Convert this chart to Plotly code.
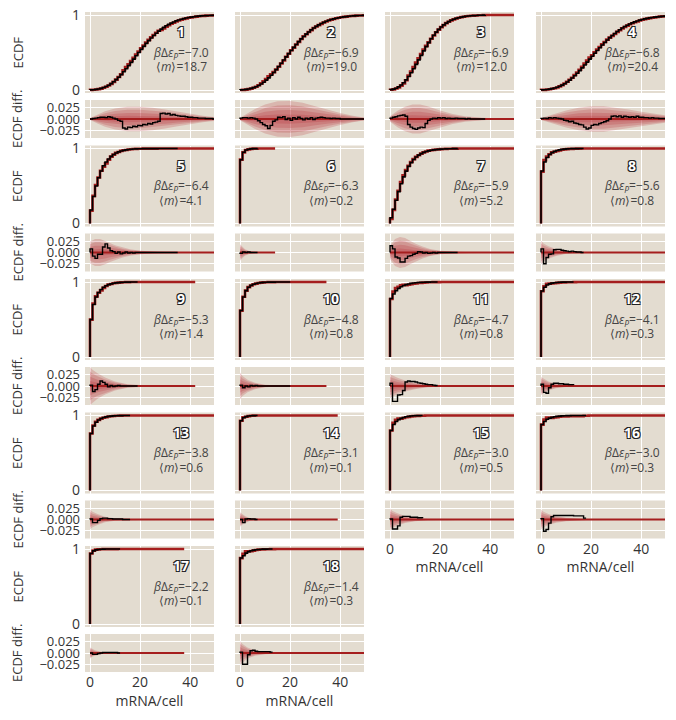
import plotly.graph_objects as go

# ---------------- data ----------------
panel_ids = list(range(1, 19))
beta_deps = [-7.0, -6.9, -6.9, -6.8, -6.4, -6.3, -5.9, -5.6, -5.3, -4.8,
             -4.7, -4.1, -3.8, -3.1, -3.0, -3.0, -2.2, -1.4]
mean_m = [18.7, 19.0, 12.0, 20.4, 4.1, 0.2, 5.2, 0.8, 1.4, 0.8,
          0.8, 0.3, 0.6, 0.1, 0.5, 0.3, 0.1, 0.3]
theory_end = [50, 50, 50, 50, 50, 14, 50, 50, 42, 34.5,
              50, 50, 50, 39, 50, 50, 37.6, 50]

# observed ECDF at mRNA counts 0,1,2,...
ecdf_1 = [0.002, 0.004, 0.008, 0.014, 0.022, 0.033, 0.047, 0.064, 0.085, 0.110,
          0.138, 0.170, 0.205, 0.243, 0.283, 0.325, 0.368, 0.412, 0.456, 0.499,
          0.541, 0.582, 0.621, 0.658, 0.693, 0.726, 0.757, 0.785, 0.811, 0.835,
          0.856, 0.875, 0.892, 0.907, 0.921, 0.933, 0.943, 0.952, 0.960, 0.967,
          0.972, 0.977, 0.981, 0.985, 0.988, 0.990, 0.992, 0.994, 0.995, 0.996, 0.997]
ecdf_2 = [0.002, 0.004, 0.008, 0.013, 0.021, 0.031, 0.044, 0.060, 0.080, 0.104,
          0.131, 0.162, 0.196, 0.233, 0.272, 0.313, 0.356, 0.399, 0.442, 0.485,
          0.527, 0.568, 0.607, 0.645, 0.681, 0.714, 0.745, 0.774, 0.801, 0.826,
          0.848, 0.868, 0.886, 0.902, 0.916, 0.929, 0.940, 0.949, 0.957, 0.964,
          0.970, 0.975, 0.979, 0.983, 0.986, 0.989, 0.991, 0.993, 0.994, 0.995, 0.996]
ecdf_3 = [0.005, 0.012, 0.024, 0.042, 0.066, 0.097, 0.135, 0.179, 0.229, 0.284,
          0.342, 0.402, 0.462, 0.521, 0.578, 0.632, 0.683, 0.729, 0.771, 0.808,
          0.840, 0.868, 0.892, 0.912, 0.929, 0.943, 0.955, 0.964, 0.972, 0.978,
          0.983, 0.987, 0.990, 0.992, 0.994, 0.996, 0.997, 0.998, 1.0]
ecdf_4 = [0.002, 0.004, 0.007, 0.012, 0.018, 0.026, 0.036, 0.049, 0.065, 0.084,
          0.106, 0.131, 0.159, 0.190, 0.223, 0.258, 0.295, 0.333, 0.372, 0.411,
          0.450, 0.489, 0.527, 0.564, 0.600, 0.634, 0.667, 0.698, 0.727, 0.754,
          0.780, 0.804, 0.826, 0.846, 0.864, 0.880, 0.895, 0.908, 0.920, 0.931,
          0.940, 0.948, 0.955, 0.961, 0.966, 0.971, 0.975, 0.979, 0.982, 0.985, 0.987]
ecdf_5 = [0.18, 0.36, 0.50, 0.61, 0.70, 0.77, 0.82, 0.86, 0.895, 0.92,
          0.94, 0.955, 0.966, 0.975, 0.981, 0.986, 0.99, 0.993, 0.995, 0.996,
          0.997, 0.998, 0.998, 0.999, 0.999, 0.999, 0.999, 1.0, 1.0, 1.0,
          1.0, 1.0, 1.0, 1.0, 1.0, 1.0]
ecdf_6 = [0.85, 0.95, 0.98, 0.99, 0.995, 0.998, 0.999, 1.0]
ecdf_7 = [0.077, 0.189, 0.309, 0.425, 0.530, 0.621, 0.698, 0.761, 0.812, 0.854,
          0.886, 0.912, 0.932, 0.948, 0.960, 0.969, 0.976, 0.981, 0.985, 0.988,
          0.991, 0.993, 0.995, 0.996, 0.997, 0.998, 0.999, 1.0]
ecdf_8 = [0.70, 0.82, 0.88, 0.92, 0.945, 0.962, 0.974, 0.982, 0.988, 0.992,
          0.995, 0.997, 0.998, 0.999, 0.999, 1.0, 1.0, 1.0]
ecdf_9 = [0.50, 0.70, 0.80, 0.86, 0.90, 0.93, 0.95, 0.965, 0.975, 0.983,
          0.988, 0.992, 0.995, 0.997, 0.998, 0.999, 1.0, 1.0, 1.0, 1.0]
ecdf_10 = [0.62, 0.80, 0.885, 0.93, 0.955, 0.97, 0.98, 0.987, 0.992, 0.995,
           0.997, 0.998, 0.999, 0.999, 1.0, 1.0, 1.0, 1.0, 1.0, 1.0, 1.0]
ecdf_11 = [0.78, 0.84, 0.885, 0.915, 0.937, 0.953, 0.965, 0.974, 0.981, 0.986,
           0.990, 0.993, 0.995, 0.997, 0.998, 0.999, 1.0, 1.0, 1.0, 1.0]
ecdf_12 = [0.88, 0.93, 0.96, 0.975, 0.985, 0.99, 0.994, 0.997, 0.998, 0.999,
           1.0, 1.0, 1.0, 1.0]
ecdf_13 = [0.76, 0.86, 0.91, 0.94, 0.96, 0.973, 0.982, 0.988, 0.992, 0.995,
           0.997, 0.998, 0.999, 1.0, 1.0, 1.0, 1.0]
ecdf_14 = [0.93, 0.97, 0.985, 0.993, 0.997, 0.999, 1.0, 1.0]
ecdf_15 = [0.80, 0.88, 0.92, 0.945, 0.962, 0.974, 0.983, 0.989, 0.993, 0.996,
           0.998, 0.999, 1.0, 1.0]
ecdf_16 = [0.88, 0.92, 0.95, 0.965, 0.975, 0.983, 0.988, 0.992, 0.995, 0.997,
           0.998, 0.999, 1.0, 1.0, 1.0, 1.0, 1.0, 1.0, 1.0]
ecdf_17 = [0.94, 0.975, 0.988, 0.994, 0.997, 0.999, 1.0, 1.0, 1.0, 1.0,
           1.0, 1.0, 1.0]
ecdf_18 = [0.88, 0.91, 0.945, 0.965, 0.977, 0.985, 0.99, 0.994, 0.996, 0.998,
           0.999, 1.0, 1.0, 1.0]

# ECDF difference (observed - theory) at the same counts
diff_1 = [0.0, 0.001, 0.002, 0.003, 0.004, 0.004, 0.003, 0.005, 0.004, 0.002,
          0.0, -0.003, -0.005, -0.020, -0.022, -0.018, -0.019, -0.016, -0.017, -0.014,
          -0.015, -0.012, -0.013, -0.010, -0.011, -0.008, -0.007, -0.005, 0.012, 0.013,
          0.011, 0.012, 0.009, 0.010, 0.008, 0.007, 0.006, 0.006, 0.005, 0.004,
          0.004, 0.003, 0.003, 0.002, 0.002, 0.002, 0.001, 0.001, 0.001, 0.0, 0.0]
diff_2 = [0.002, 0.003, 0.003, 0.002, 0.003, 0.002, 0.000, -0.004, -0.008, -0.012,
          -0.015, -0.021, -0.014, -0.005, -0.002, 0.004, 0.003, 0.005, -0.001, 0.002,
          -0.003, 0.003, 0.000, 0.004, 0.001, -0.002, 0.002, 0.000, 0.003, -0.001,
          0.002, 0.003, 0.004, 0.003, 0.002, 0.002, 0.001, 0.002, 0.001, 0.001,
          0.0, 0.0, 0.0, 0.0, 0.0, 0.0, 0.0, 0.0, 0.0, 0.0, 0.0]
diff_3 = [0.002, 0.004, 0.005, 0.007, 0.008, 0.009, 0.006, -0.012, -0.018, -0.021,
          -0.023, -0.020, -0.018, -0.019, -0.010, -0.003, 0.000, 0.002, 0.001, 0.003,
          0.002, 0.003, 0.001, 0.002, 0.001, 0.001, 0.002, 0.001, 0.001, 0.001,
          0.000, 0.001, 0.0, 0.0, 0.0, 0.0, 0.0, 0.0, 0.0]
diff_4 = [0.001, 0.002, 0.001, 0.003, 0.002, 0.003, 0.002, 0.001, 0.000, -0.003,
          -0.004, -0.006, -0.005, -0.009, -0.010, -0.012, -0.013, -0.018, -0.022, -0.020,
          -0.014, -0.012, -0.013, -0.010, -0.008, -0.006, -0.004, 0.000, 0.006, 0.007,
          0.005, 0.007, 0.004, 0.006, 0.005, 0.004, 0.005, 0.004, 0.006, 0.004,
          0.004, 0.003, 0.003, 0.002, 0.003, 0.002, 0.002, 0.001, 0.001, 0.001, 0.0]
diff_5 = [0.008, -0.008, -0.013, -0.004, -0.004, 0.012, 0.019, 0.010, 0.004, 0.002,
          -0.002, 0.001, -0.003, -0.001, 0.001, -0.001, 0.000, -0.001, 0.0, 0.0,
          0.0, 0.0, 0.0, 0.0, 0.0, 0.0, 0.0, 0.0, 0.0, 0.0,
          0.0, 0.0, 0.0, 0.0, 0.0, 0.0]
diff_6 = [-0.002, 0.001, 0.000, 0.001, 0.0, 0.0, 0.0, 0.0]
diff_7 = [0.015, 0.008, -0.010, -0.012, -0.021, -0.021, -0.013, -0.008, -0.007, -0.004,
          -0.002, 0.002, 0.001, -0.001, 0.000, -0.002, -0.001, 0.000, -0.001, 0.0,
          0.0, 0.0, 0.0, 0.0, 0.0, 0.0, 0.0, 0.0]
diff_8 = [0.008, -0.025, -0.011, -0.004, -0.003, 0.006, 0.007, 0.007, 0.005, 0.004,
          0.003, 0.002, 0.003, 0.002, 0.001, 0.001, 0.0, 0.0]
diff_9 = [0.002, -0.012, -0.008, 0.004, 0.011, 0.008, 0.004, -0.002, 0.001, -0.001,
          0.0, 0.001, 0.0, 0.0, 0.0, 0.0, 0.0, 0.0, 0.0, 0.0]
diff_10 = [0.002, -0.004, 0.000, -0.002, 0.001, 0.000, 0.001, 0.0, 0.0, 0.0,
           0.0, 0.0, 0.0, 0.0, 0.0, 0.0, 0.0, 0.0, 0.0, 0.0, 0.0]
diff_11 = [0.006, -0.034, -0.034, -0.020, -0.019, -0.010, 0.009, 0.011, 0.010, 0.010,
           0.009, 0.007, 0.006, 0.005, 0.004, 0.003, 0.003, 0.002, 0.001, 0.001]
diff_12 = [0.004, -0.014, -0.016, -0.004, 0.004, 0.006, 0.006, 0.005, 0.005, 0.004,
           0.004, 0.003, 0.003, 0.002]
diff_13 = [0.001, -0.007, -0.007, -0.002, 0.002, 0.003, 0.003, 0.002, 0.002, 0.001,
           0.001, 0.001, 0.001, 0.0, 0.0, 0.0, 0.0]
diff_14 = [0.000, -0.007, 0.001, 0.002, 0.001, 0.001, 0.0, 0.0]
diff_15 = [0.001, -0.021, -0.021, -0.014, 0.005, 0.007, 0.007, 0.007, 0.005, 0.005,
           0.005, 0.004, 0.004, 0.003]
diff_16 = [0.002, -0.026, -0.022, -0.008, 0.006, 0.009, 0.009, 0.009, 0.009, 0.009,
           0.009, 0.009, 0.009, 0.008, 0.008, 0.008, 0.008, 0.003, 0.003]
diff_17 = [0.000, -0.003, -0.003, -0.001, 0.000, 0.001, 0.001, 0.001, 0.001, 0.001,
           0.001, 0.0, 0.0]
diff_18 = [0.002, -0.025, -0.025, -0.004, 0.005, 0.006, 0.004, 0.003, 0.003, 0.003,
           0.003, 0.003, 0.002, 0.002]

# outer credible-band half-width (ECDF diff units)
band_x_1 = [0, 3, 6, 10, 15, 20, 25, 30, 35, 40, 45, 50]
band_hw_1 = [0.002, 0.010, 0.017, 0.023, 0.027, 0.027, 0.025, 0.021, 0.016, 0.011, 0.007, 0.004]
band_x_2 = [0, 3, 6, 10, 15, 20, 25, 30, 35, 40, 45, 50]
band_hw_2 = [0.003, 0.012, 0.022, 0.032, 0.039, 0.040, 0.036, 0.028, 0.020, 0.013, 0.007, 0.003]
band_x_3 = [0, 3, 6, 9, 12, 15, 20, 25, 30, 35, 40, 50]
band_hw_3 = [0.006, 0.018, 0.027, 0.032, 0.032, 0.028, 0.019, 0.011, 0.006, 0.003, 0.0015, 0.0005]
band_x_4 = [0, 3, 6, 10, 15, 20, 25, 30, 35, 40, 45, 50]
band_hw_4 = [0.002, 0.007, 0.013, 0.019, 0.025, 0.028, 0.028, 0.025, 0.021, 0.016, 0.012, 0.008]
band_x_5 = [0, 2, 4, 6, 8, 10, 13, 16, 20, 25, 30, 50]
band_hw_5 = [0.024, 0.030, 0.030, 0.026, 0.021, 0.016, 0.011, 0.007, 0.004, 0.002, 0.001, 0.0]
band_x_6 = [0, 1, 2, 4, 6, 10, 14]
band_hw_6 = [0.018, 0.012, 0.007, 0.003, 0.001, 0.0, 0.0]
band_x_7 = [0, 2, 4, 6, 8, 10, 13, 16, 20, 25, 30, 50]
band_hw_7 = [0.015, 0.030, 0.034, 0.032, 0.026, 0.020, 0.013, 0.008, 0.004, 0.002, 0.001, 0.0]
band_x_8 = [0, 1, 3, 6, 10, 15, 20, 50]
band_hw_8 = [0.026, 0.020, 0.014, 0.008, 0.003, 0.001, 0.0, 0.0]
band_x_9 = [0, 1, 3, 6, 10, 15, 20, 42]
band_hw_9 = [0.042, 0.036, 0.028, 0.019, 0.010, 0.004, 0.002, 0.0]
band_x_10 = [0, 1, 3, 6, 10, 15, 20, 34.5]
band_hw_10 = [0.030, 0.022, 0.014, 0.007, 0.003, 0.001, 0.0, 0.0]
band_x_11 = [0, 1, 3, 6, 10, 15, 20, 30, 50]
band_hw_11 = [0.026, 0.023, 0.018, 0.012, 0.007, 0.003, 0.0015, 0.0005, 0.0]
band_x_12 = [0, 1, 3, 6, 10, 15, 50]
band_hw_12 = [0.020, 0.016, 0.010, 0.005, 0.002, 0.001, 0.0]
band_x_13 = [0, 1, 3, 6, 10, 15, 50]
band_hw_13 = [0.022, 0.017, 0.012, 0.006, 0.003, 0.001, 0.0]
band_x_14 = [0, 1, 2, 4, 7, 12, 39]
band_hw_14 = [0.016, 0.011, 0.008, 0.003, 0.001, 0.0, 0.0]
band_x_15 = [0, 1, 3, 6, 10, 15, 50]
band_hw_15 = [0.024, 0.019, 0.014, 0.008, 0.004, 0.0015, 0.0]
band_x_16 = [0, 1, 3, 6, 10, 18, 50]
band_hw_16 = [0.022, 0.017, 0.012, 0.007, 0.004, 0.001, 0.0]
band_x_17 = [0, 1, 2, 5, 10, 37.6]
band_hw_17 = [0.012, 0.008, 0.006, 0.002, 0.0, 0.0]
band_x_18 = [0, 1, 3, 6, 10, 15, 50]
band_hw_18 = [0.026, 0.020, 0.012, 0.006, 0.003, 0.001, 0.0]

ecdfs = [ecdf_1, ecdf_2, ecdf_3, ecdf_4, ecdf_5, ecdf_6, ecdf_7, ecdf_8, ecdf_9,
         ecdf_10, ecdf_11, ecdf_12, ecdf_13, ecdf_14, ecdf_15, ecdf_16, ecdf_17, ecdf_18]
diffs = [diff_1, diff_2, diff_3, diff_4, diff_5, diff_6, diff_7, diff_8, diff_9,
         diff_10, diff_11, diff_12, diff_13, diff_14, diff_15, diff_16, diff_17, diff_18]
band_xs = [band_x_1, band_x_2, band_x_3, band_x_4, band_x_5, band_x_6, band_x_7, band_x_8,
           band_x_9, band_x_10, band_x_11, band_x_12, band_x_13, band_x_14, band_x_15,
           band_x_16, band_x_17, band_x_18]
band_hws = [band_hw_1, band_hw_2, band_hw_3, band_hw_4, band_hw_5, band_hw_6, band_hw_7,
            band_hw_8, band_hw_9, band_hw_10, band_hw_11, band_hw_12, band_hw_13,
            band_hw_14, band_hw_15, band_hw_16, band_hw_17, band_hw_18]

# ---------------- style / layout ----------------
PAGE_OFF = 8            # page body margin that shifts the figure in the window
W, H = 676 - PAGE_OFF, 720 - PAGE_OFF
ML, MR, MT, MB = 85 - PAGE_OFF, 11, 12 - PAGE_OFF, 48
PW, PH = W - ML - MR, H - MT - MB
COL_PX = [0, 150, 300, 451]
COL_W = 129
ROW_PITCH = 133.5
E_H, GAP, D_H = 81, 7, 38

BG = "#E3DCD0"
RED = "#A51E1E"
BLACK = "#000000"
BAND = "rgba(180,30,40,0.2)"
LEVELS = [1.0, 0.76, 0.5, 0.26]
FONT = "Open Sans"
TXT = "#333333"
XR = [-2, 49.5]


def yp(p):
    return 1 - p / PH


def sfx(n):
    return "" if n == 1 else str(n)


fig = go.Figure()
axes = {}
annotations = []

for i in range(18):
    r, c = divmod(i, 4)
    top = r * ROW_PITCH
    xdom = [COL_PX[c] / PW, min(1.0, (COL_PX[c] + COL_W) / PW)]
    edom = [yp(top + E_H), yp(top)]
    ddom = [yp(top + E_H + GAP + D_H), yp(top + E_H + GAP)]
    ne, nd = 2 * i + 1, 2 * i + 2
    ecdf, diff = ecdfs[i], diffs[i]
    n = min(len(ecdf), len(diff))
    ks = list(range(n))
    tend = theory_end[i]
    theory = [min(1.0, ecdf[k] - diff[k]) for k in ks]

    # ---- ECDF panel ----
    xr = [0] + ks
    yr = [0] + theory
    if tend > n:
        xr += [n, tend]
        yr += [1.0, 1.0]
    fig.add_trace(go.Scatter(x=xr, y=yr, mode="lines", line=dict(color=RED, width=2.6, shape="hv"),
                             xaxis="x" + sfx(ne), yaxis="y" + sfx(ne), hoverinfo="skip", showlegend=False))
    fig.add_trace(go.Scatter(x=[0] + ks, y=[0] + ecdf[:n], mode="lines",
                             line=dict(color=BLACK, width=1.6, shape="hv"),
                             xaxis="x" + sfx(ne), yaxis="y" + sfx(ne), showlegend=False))

    # ---- diff panel ----
    bx, bh = band_xs[i], band_hws[i]
    for f in LEVELS:
        up = [h * f for h in bh]
        fig.add_trace(go.Scatter(x=bx + bx[::-1], y=up + [-u for u in up[::-1]], mode="lines",
                                 fill="toself", fillcolor=BAND, line=dict(width=0),
                                 xaxis="x" + sfx(nd), yaxis="y" + sfx(nd), hoverinfo="skip",
                                 showlegend=False))
    fig.add_trace(go.Scatter(x=[0, tend], y=[0, 0], mode="lines", line=dict(color=RED, width=2.2),
                             xaxis="x" + sfx(nd), yaxis="y" + sfx(nd), hoverinfo="skip", showlegend=False))
    fig.add_trace(go.Scatter(x=[0] + ks, y=[0] + diff[:n], mode="lines",
                             line=dict(color=BLACK, width=1.4, shape="hv"),
                             xaxis="x" + sfx(nd), yaxis="y" + sfx(nd), showlegend=False))

    common_x = dict(range=XR, tickvals=[0, 20, 40], showgrid=True, gridcolor="white", gridwidth=1,
                    zeroline=False, showline=False, ticks="", fixedrange=True, automargin=False,
                    ticklabeloverflow="allow",
                    tickfont=dict(family=FONT, size=14, color=TXT))
    axes["xaxis" + sfx(ne)] = dict(common_x, domain=xdom, anchor="y" + sfx(ne), showticklabels=False)
    show_x = i >= 14
    xd = dict(common_x, domain=xdom, anchor="y" + sfx(nd), showticklabels=show_x)
    if show_x:
        xd["title"] = dict(text="mRNA/cell", font=dict(family=FONT, size=14, color=TXT), standoff=4)
    axes["xaxis" + sfx(nd)] = xd
    axes["yaxis" + sfx(ne)] = dict(domain=edom, anchor="x" + sfx(ne), range=[-0.04, 1.04],
                                   tickvals=[0, 1], showgrid=True, gridcolor="white", gridwidth=1,
                                   zeroline=False, showline=False, ticks="", fixedrange=True,
                                   automargin=False, ticklabeloverflow="allow",
                                   showticklabels=(c == 0), ticklabelstandoff=4,
                                   tickfont=dict(family=FONT, size=14, color=TXT))
    axes["yaxis" + sfx(nd)] = dict(domain=ddom, anchor="x" + sfx(nd), range=[-0.042, 0.042],
                                   tickvals=[-0.025, 0, 0.025],
                                   ticktext=["\u22120.025", "0.000", "0.025"],
                                   showgrid=True, gridcolor="white", gridwidth=1,
                                   zeroline=False, showline=False, ticks="", fixedrange=True,
                                   automargin=False, ticklabeloverflow="allow",
                                   showticklabels=(c == 0), ticklabelstandoff=4,
                                   tickfont=dict(family=FONT, size=13, color=TXT))

    # ---- panel texts ----
    annotations.append(dict(x=36.5, y=0.78, xref="x" + sfx(ne), yref="y" + sfx(ne),
                            text="<b>%d</b>" % panel_ids[i], showarrow=False,
                            font=dict(family=FONT, size=14, color="white",
                                      shadow="-1px -1px 0 #222, 1px -1px 0 #222, -1px 1px 0 #222, 1px 1px 0 #222")))
    annotations.append(dict(x=36.5, y=0.50, xref="x" + sfx(ne), yref="y" + sfx(ne),
                            text="<i>β</i>Δ<i>ε</i><sub><i>P</i></sub>=%s" % ("%.1f" % beta_deps[i]).replace("-", "\u2212"),
                            showarrow=False, font=dict(family=FONT, size=12, color="#444444")))
    annotations.append(dict(x=36.5, y=0.31, xref="x" + sfx(ne), yref="y" + sfx(ne),
                            text="⟨<i>m</i>⟩=%.1f" % mean_m[i],
                            showarrow=False, font=dict(family=FONT, size=12, color="#444444")))

# y-axis titles for each row
for r in range(5):
    top = r * ROW_PITCH
    annotations.append(dict(x=(17 - 85) / PW, y=yp(top + E_H / 2), xref="paper", yref="paper",
                            text="ECDF", textangle=-90, showarrow=False, xanchor="center", yanchor="middle",
                            font=dict(family=FONT, size=13, color=TXT)))
    annotations.append(dict(x=(17 - 85) / PW, y=yp(top + E_H + GAP + D_H / 2), xref="paper", yref="paper",
                            text="ECDF diff.", textangle=-90, showarrow=False, xanchor="center",
                            yanchor="middle", font=dict(family=FONT, size=13, color=TXT)))

fig.update_layout(width=W, height=H, margin=dict(l=ML, r=MR, t=MT, b=MB, autoexpand=False),
                  plot_bgcolor=BG, paper_bgcolor="white", showlegend=False,
                  annotations=annotations, font=dict(family=FONT, color=TXT), **axes)

fig.write_html("out.html")
